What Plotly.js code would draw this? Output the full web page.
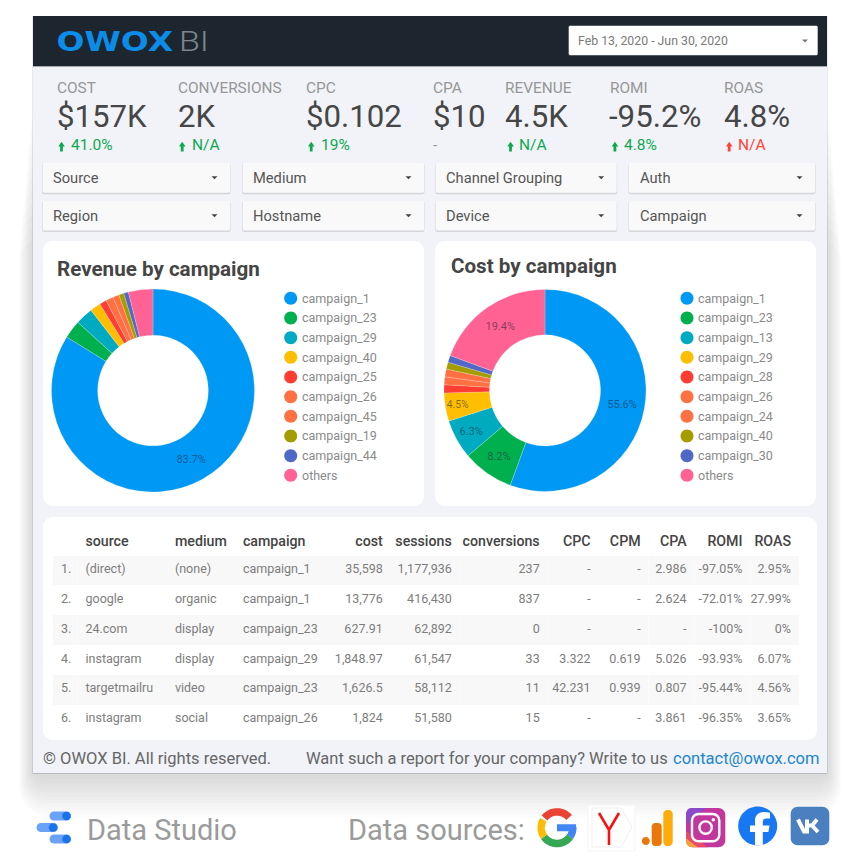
<!DOCTYPE html>
<html><head><meta charset="utf-8">
<script src="https://cdn.plot.ly/plotly-3.0.1.min.js"></script>
<style>html,body{margin:0;padding:0;background:#fff}#c{width:859px;height:859px}</style>
</head><body><div id="c"></div>
<script>
// ---------- data ----------
const palette = ['#0098f5','#00b04f','#00abc2','#ffbf00','#ff3d33','#ff7043','#ff7043','#a59d00','#5169c6','#ff6293'];
const revenueCampaigns = ['campaign_1','campaign_23','campaign_29','campaign_40','campaign_25','campaign_26','campaign_45','campaign_19','campaign_44','others'];
const revenueValues = [83.7,2.9,2.8,1.7,1.1,1.2,1.0,0.8,0.75,3.9];
const revenueLabels = ['83.7%','','','','','','','','',''];
const costCampaigns = ['campaign_1','campaign_23','campaign_13','campaign_29','campaign_28','campaign_26','campaign_24','campaign_40','campaign_30','others'];
const costValues = [55.6,8.2,6.3,4.5,1.3,1.25,1.25,1.1,1.1,19.4];
const costLabels = ['55.6%','8.2%','6.3%','4.5%','','','','','','19.4%'];

const kpiNames = ['COST','CONVERSIONS','CPC','CPA','REVENUE','ROMI','ROAS'];
const kpiValues = ['$157K','2K','$0.102','$10','4.5K','-95.2%','4.8%'];
const kpiDeltas = ['41.0%','N/A','19%','-','N/A','4.8%','N/A'];
const filterNames = ['Source','Medium','Channel Grouping','Auth','Region','Hostname','Device','Campaign'];

const tableHeader = ['','source','medium','campaign','cost','sessions','conversions','CPC','CPM','CPA','ROMI','ROAS'];
const colIndex = ['1.','2.','3.','4.','5.','6.'];
const colSource = ['(direct)','google','24.com','instagram','targetmailru','instagram'];
const colMedium = ['(none)','organic','display','display','video','social'];
const colCampaign = ['campaign_1','campaign_1','campaign_23','campaign_29','campaign_23','campaign_26'];
const colCost = ['35,598','13,776','627.91','1,848.97','1,626.5','1,824'];
const colSessions = ['1,177,936','416,430','62,892','61,547','58,112','51,580'];
const colConversions = ['237','837','0','33','11','15'];
const colCPC = ['-','-','-','3.322','42.231','-'];
const colCPM = ['-','-','-','0.619','0.939','-'];
const colCPA = ['2.986','2.624','-','5.026','0.807','3.861'];
const colROMI = ['-97.05%','-72.01%','-100%','-93.93%','-95.44%','-96.35%'];
const colROAS = ['2.95%','27.99%','0%','6.07%','4.56%','3.65%'];

// ---------- helpers ----------
const S = 859, FONT = 'Roboto, sans-serif';
const fx = x => x / S, fy = y => 1 - y / S;
const shapes = [], annotations = [];
function path(d) { let i = 0; return d.replace(/\d+(\.\d+)?/g, n => (i++ % 2 === 0 ? fx(+n) : fy(+n)).toFixed(5)); }
function addPath(d, fill, line, lw) {
  shapes.push({type:'path', xref:'paper', yref:'paper', layer:'below', path:path(d),
    fillcolor: fill || 'rgba(0,0,0,0)', line:{color: line || 'rgba(0,0,0,0)', width: lw || 0}});
}
function rr(x0,y0,x1,y1,r) {
  const k = r * 0.4477;
  return `M${x0+r} ${y0}L${x1-r} ${y0}C${x1-k} ${y0} ${x1} ${y0+k} ${x1} ${y0+r}L${x1} ${y1-r}C${x1} ${y1-k} ${x1-k} ${y1} ${x1-r} ${y1}L${x0+r} ${y1}C${x0+k} ${y1} ${x0} ${y1-k} ${x0} ${y1-r}L${x0} ${y0+r}C${x0} ${y0+k} ${x0+k} ${y0} ${x0+r} ${y0}Z`;
}
function circ(cx,cy,r){ return rr(cx-r,cy-r,cx+r,cy+r,r); }
function arc(cx,cy,r,a0,a1){ // degrees clockwise from top
  let d=''; const n=24;
  for(let i=0;i<=n;i++){ const a=(a0+(a1-a0)*i/n)*Math.PI/180;
    d+=(i?'L':'M')+(cx+r*Math.sin(a)).toFixed(2)+' '+(cy-r*Math.cos(a)).toFixed(2); }
  return d;
}
function T(x,y,text,size,color,opt) {
  opt = opt || {};
  annotations.push({xref:'paper',yref:'paper',x:fx(x-1),y:fy(y),text,showarrow:false,
    xanchor:opt.anchor||'left',yanchor:'middle',borderpad:0,
    font:{family:opt.family||FONT,size,color,weight:opt.weight||400}});
}

// ---------- page chrome ----------
for (let s = 24; s >= 2; s -= 2) addPath(rr(33-0.6*s,90+6*s,827+0.6*s,776+1.7*s,s+8),'rgba(40,50,60,0.017)');
addPath(rr(32.5,16,827.5,774,1),'rgba(80,90,110,0.25)');
addPath(rr(33,16,827,773,0),'#f1f3f8');
addPath(rr(33,16,827,66,0),'#1d262e');
addPath(rr(33,66,827,66.8,0),'#8b9197');
// logo
T(67,41.5,'OWOX',27,'#0a8ce8',{family:'DejaVu Sans, sans-serif',weight:700});
T(182,41.5,'BI',27,'#7b858b',{weight:300});
// date selector
addPath(rr(568.7,25.7,817.7,55.3,1.5),'#ffffff');
T(577.5,41,'Feb 13, 2020 - Jun 30, 2020',12.3,'#7a7a7a');
addPath('M802 39.5L808 39.5L805 42.5Z','#777777');

// KPIs
const kpiX = [57,178,306,433,505,610,724];
const kpiDeltaX = [71,192,320.5,433,519,624,738];
const kpiArrowX = [58.3,179,308,0,507.3,611.7,726];
const kpiColors = ['#0ea84f','#0ea84f','#0ea84f','#999999','#0ea84f','#0ea84f','#ff4436'];
kpiNames.forEach((n,i)=>{
  T(kpiX[i],88,n,15.4,'#979797');
  T(kpiX[i]-(i===5?1:0),116.8,kpiValues[i],31.2,'#464646');
  T(kpiDeltaX[i],145,kpiDeltas[i],15.5,kpiColors[i]);
  if(kpiArrowX[i]){ const a=kpiArrowX[i];
    addPath(`M${a+3.2} 141.7L${a+6.6} 146.5L${a+4.6} 146.5L${a+4.6} 151.5L${a+1.8} 151.5L${a+1.8} 146.5L${a} 146.5Z`,kpiColors[i]); }
});

// filters
const fX0=[42.7,242.7,436,629], fX1=[230,424,616.7,815], fY0=[163,201], fY1=[192.7,230.4];
filterNames.forEach((n,i)=>{
  const c=i%4,r=Math.floor(i/4);
  addPath(rr(fX0[c]-0.5,fY0[r]+0.5,fX1[c]+0.5,fY1[r]+1.5,2),'rgba(60,60,70,0.16)');
  addPath(rr(fX0[c],fY0[r],fX1[c],fY1[r],1.5),'#f9f9f9');
  T(fX0[c]+10.5,(fY0[r]+fY1[r])/2+0.2,n,14.7,'#555555');
  const cx=fX1[c]-15.5, cy=(fY0[r]+fY1[r])/2;
  addPath(`M${cx-3} ${cy-1.5}L${cx+3} ${cy-1.5}L${cx} ${cy+1.5}Z`,'#444444');
});

// cards
addPath(rr(43,241,424,506,10),'#ffffff');
addPath(rr(435,241,816,506,10),'#ffffff');
addPath(rr(43,517,817,740,10),'#ffffff');
T(57,269,'Revenue by campaign',20.6,'#454545',{weight:700});
T(451,266,'Cost by campaign',20.6,'#454545',{weight:700});

// legends (circle + label), both built from the campaign arrays
[[revenueCampaigns,290.7,302.3],[costCampaigns,687,698.3]].forEach(([names,cx,tx])=>{
  names.forEach((n,i)=>{
    const y=298.3+i*19.67;
    addPath(circ(cx,y,6.5),palette[i]);
    T(tx,y,n,12.5,'#8a8a8a');
  });
});

// footer
T(43,758.5,'© OWOX BI. All rights reserved.',16.5,'#666666');
T(306,758.5,'Want such a report for your company? Write to us',16.5,'#666666');
T(672.5,758.5,'contact@owox.com',16.5,'#1b86cb');
T(87,830,'Data Studio',29,'#9b9b9b');
T(348,830,'Data sources:',29,'#9b9b9b');

// Data Studio mark
addPath(rr(49.5,811.5,71,820.5,4.5),'#6aa2f8');
addPath(circ(66.5,816,4.3),'#1a73e8');
addPath(rr(36.5,823,58,832,4.5),'#6aa2f8');
addPath(circ(53,827.5,4.3),'#1a73e8');
addPath(rr(49.5,834.5,71,843.5,4.5),'#6aa2f8');
addPath(circ(66.5,839,4.3),'#1a73e8');
// Google
addPath(arc(557,827.7,15.8,125,88),null,'#4285f4',7.5);
addPath(rr(557,824.2,576,831.2,0),'#4285f4');
addPath(arc(557,827.7,15.8,235,125),null,'#34a853',7.5);
addPath(arc(557,827.7,15.8,300,235),null,'#fbbc05',7.5);
addPath(arc(557,827.7,15.8,308,410),null,'#ea4335',7.5);
// Yandex
addPath(rr(588,805,635,851,0),'#ffffff','#f4f4f4',1);
addPath('M592 808L621 808L632 827L621 847L592 847Z','#ffffff','#eeeeee',1);
addPath('M599 813L609 830L619 813M609 830L609 845',null,'#ff1010',2.6);
// Analytics
addPath(circ(645.8,841,4),'#e8780a');
addPath(rr(651.7,823,661.7,846,3.5),'#e8780a');
addPath(rr(663.3,810,672.7,846,4),'#ffab0a');
// Instagram
addPath(rr(686,808,725.3,847.3,7),'#c2379e');
addPath('M691 808L706 808L687 824L686 815C686 811 688 808 691 808Z','#8e49c9');
addPath('M686 838L698 847.3L692 847.3C688 847.3 686 844 686 841Z','#f8a03a');
addPath('M698 847.3L686 838L686 831L708 847.3Z','#e84a6a');
addPath(rr(692,814,719.3,841.3,6.5),null,'#ffffff',2.4);
addPath(circ(705.6,827.6,6.2),null,'#ffffff',2.4);
addPath(circ(713.3,819.8,1.7),'#ffffff');
// Facebook
addPath(circ(757.7,826,19.5),'#1877f2');
addPath('M755 845.5L755 832L750 832L750 825.5L755 825.5L755 820.5C755 815 759 812 764 812C766 812 768 812.3 770 812.7L770 818.5L766.5 818.5C764 818.5 762.8 819.5 762.8 822L762.8 825.5L769.5 825.5L768.4 832L762.8 832L762.8 845.5Z','#ffffff');
// VK
addPath(rr(790.7,806.7,829.3,845.3,7),'#4a7fc0');
addPath('M798 819.5L804 831.5L807 831.5L807 819.5',null,'#ffffff',4);
addPath('M807 825.5L812 825.5L817 819.5M812 825.5L818 832',null,'#ffffff',4);

// ---------- traces ----------
function donut(values,labels,names,x0,y0,d,hole){
  return {type:'pie',values,text:labels,labels:names,sort:false,direction:'clockwise',rotation:0,
    hole,textinfo:'text',textposition:'inside',insidetextorientation:'horizontal',
    insidetextfont:{family:FONT,size:11,color:'rgba(20,30,50,0.55)'},
    marker:{colors:palette,line:{color:'rgba(255,255,255,0.5)',width:0.4}},
    domain:{x:[fx(x0),fx(x0+d)],y:[fy(y0+d),fy(y0)]},showlegend:false,hoverinfo:'label+percent'};
}
const colEdges=[53,77.5,167,235,320,391,460,548,599,649,695,751,799.5];
const colWidths=colEdges.slice(1).map((e,i)=>e-colEdges[i]);
const bandFill=colIndex.map((_,i)=>i%2===0?'#f8f8f8':'#ffffff');
const alignCols=['left','left','left','left','right','right','right','right','right','right','right','right'];
const HEADER_H=28.5, ROW_H=29.9;
const tableY0=527;
const tableTrace={type:'table',columnwidth:colWidths,
  domain:{x:[fx(53),fx(799.5)],y:[fy(tableY0+HEADER_H+6*ROW_H),fy(tableY0)]},
  header:{values:tableHeader.map(h=>[h]),align:alignCols,height:HEADER_H,
    fill:{color:'#ffffff'},line:{width:0,color:'rgba(0,0,0,0)'},
    font:{family:FONT,size:14.2,color:'#444444',weight:500}},
  cells:{values:[colIndex,colSource,colMedium,colCampaign,colCost,colSessions,colConversions,colCPC,colCPM,colCPA,colROMI,colROAS],
    align:alignCols,height:ROW_H,fill:{color:[bandFill]},line:{width:0,color:'rgba(0,0,0,0)'},
    font:{family:FONT,size:12.5,color:'#7d7d7d'}}};

Plotly.newPlot('c',[
  donut(revenueValues,revenueLabels,revenueCampaigns,51.5,289,203,0.545),
  donut(costValues,costLabels,costCampaigns,444,289.4,202,0.55),
  tableTrace
],{width:S,height:S,margin:{l:0,r:0,t:0,b:0,pad:0},paper_bgcolor:'#ffffff',plot_bgcolor:'rgba(0,0,0,0)',
  shapes,annotations,showlegend:false,hovermode:false},{displayModeBar:false,staticPlot:true}).then(()=>{
  // stretch the wordmark to the logo's wide letterforms
  document.querySelectorAll('.annotation-text').forEach(t=>{
    if(t.textContent==='OWOX'){t.setAttribute('textLength','116.5');t.setAttribute('lengthAdjust','spacingAndGlyphs');}
    if(t.textContent==='BI'){t.setAttribute('textLength','30');t.setAttribute('lengthAdjust','spacingAndGlyphs');}
  });
});
</script></body></html>
